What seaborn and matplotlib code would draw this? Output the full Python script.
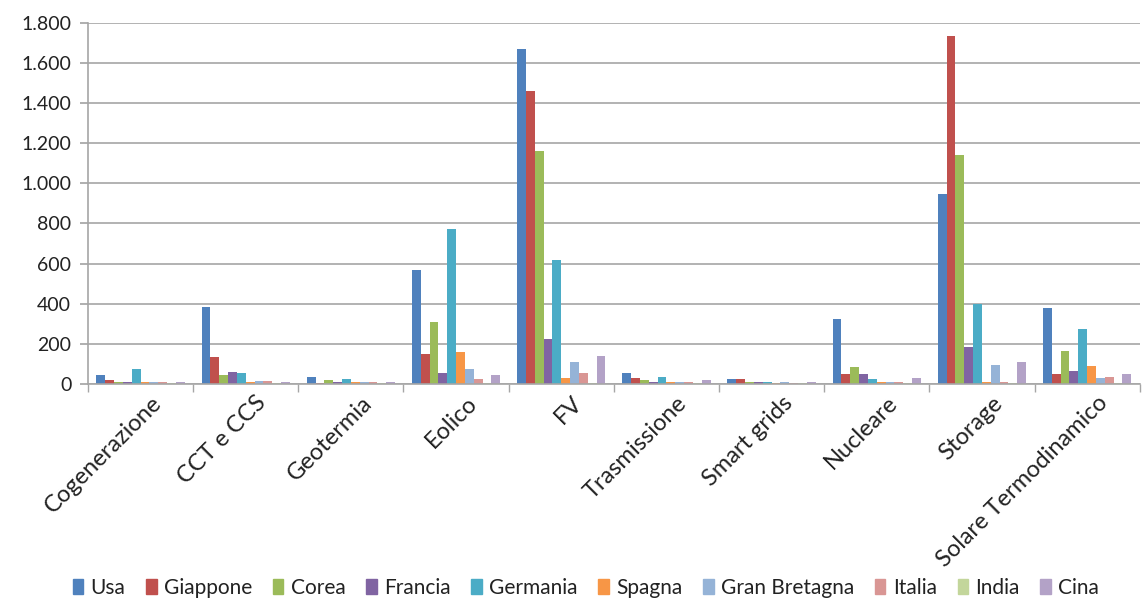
import matplotlib
matplotlib.use("Agg")
import matplotlib.pyplot as plt
from matplotlib.ticker import FuncFormatter, FixedLocator
import seaborn as sns
import pandas as pd
import numpy as np

categories = ["Cogenerazione", "CCT e CCS", "Geotermia", "Eolico", "FV",
              "Trasmissione", "Smart grids", "Nucleare", "Storage",
              "Solare Termodinamico"]
countries = ["Usa", "Giappone", "Corea", "Francia", "Germania", "Spagna",
             "Gran Bretagna", "Italia", "India", "Cina"]

usa = [45, 385, 35, 570, 1670, 55, 25, 325, 945, 380]
giappone = [20, 135, 6, 150, 1460, 30, 25, 50, 1735, 50]
corea = [12, 45, 18, 310, 1160, 20, 8, 85, 1140, 165]
francia = [8, 60, 8, 55, 225, 12, 8, 50, 185, 65]
germania = [75, 55, 25, 770, 620, 35, 12, 25, 400, 275]
spagna = [8, 8, 8, 160, 30, 8, 5, 8, 12, 90]
gran_bretagna = [8, 15, 8, 75, 110, 12, 8, 8, 95, 30]
italia = [8, 15, 8, 25, 55, 8, 5, 8, 10, 35]
india = [5, 6, 5, 6, 6, 5, 5, 5, 6, 6]
cina = [8, 8, 8, 45, 140, 20, 8, 30, 110, 50]

series = [usa, giappone, corea, francia, germania, spagna,
          gran_bretagna, italia, india, cina]
colors = ["#4F81BD", "#C0504D", "#9BBB59", "#8064A2", "#4BACC6", "#F79646",
          "#95B3D7", "#D99694", "#C3D69B", "#B3A2C7"]

rows = []
for country, vals in zip(countries, series):
    for cat, v in zip(categories, vals):
        rows.append({"Tecnologia": cat, "Paese": country, "Valore": v})
df = pd.DataFrame(rows)

sns.set_theme(style="white")
plt.rcParams["font.family"] = ["Lato", "DejaVu Sans"]

fig = plt.figure(figsize=(11.42, 5.98), dpi=100)
ax = fig.add_axes([0.077, 0.358, 0.921, 0.604])

sns.barplot(data=df, x="Tecnologia", y="Valore", hue="Paese",
            order=categories, hue_order=countries, palette=colors,
            width=0.84, saturation=1, linewidth=0, ax=ax, legend=True)

ax.set_ylim(0, 1800)
ax.set_xlim(-0.5, len(categories) - 0.5)
ax.set_yticks(np.arange(0, 1801, 200))
ax.yaxis.set_major_formatter(FuncFormatter(lambda v, p: f"{int(v):,}".replace(",", ".")))
ax.yaxis.grid(True, color="#A6A6A6", linewidth=1.2)
ax.set_axisbelow(True)
ax.set_xlabel("")
ax.set_ylabel("")

for s in ["top", "right"]:
    ax.spines[s].set_visible(False)
for s in ["left", "bottom"]:
    ax.spines[s].set_color("#A6A6A6")
    ax.spines[s].set_linewidth(1.2)

ax.tick_params(axis="y", which="major", length=6, color="#A6A6A6",
               labelsize=14, labelcolor="#222222", left=True, pad=6)
ax.tick_params(axis="x", which="major", length=0, labelsize=17,
               labelcolor="#222222", pad=6)
ax.xaxis.set_minor_locator(FixedLocator(np.arange(-0.5, len(categories), 1.0)))
ax.tick_params(axis="x", which="minor", length=6, color="#A6A6A6", bottom=True)

for lab in ax.get_xticklabels():
    lab.set_rotation(45)
    lab.set_ha("right")
    lab.set_rotation_mode("anchor")
    lab.set_transform(lab.get_transform() +
                      matplotlib.transforms.ScaledTranslation(0.10, 0, fig.dpi_scale_trans))

ax.get_legend().remove()
handles = [plt.Rectangle((0, 0), 1, 1, color=c) for c in colors]
fig.legend(handles, countries, loc="center", bbox_to_anchor=(0.513, 0.017),
           ncol=10, frameon=False, fontsize=15, handlelength=0.5,
           handleheight=0.7, handletextpad=0.35, columnspacing=1.0,
           labelcolor="#222222")

fig.savefig("out.png", dpi=100)
